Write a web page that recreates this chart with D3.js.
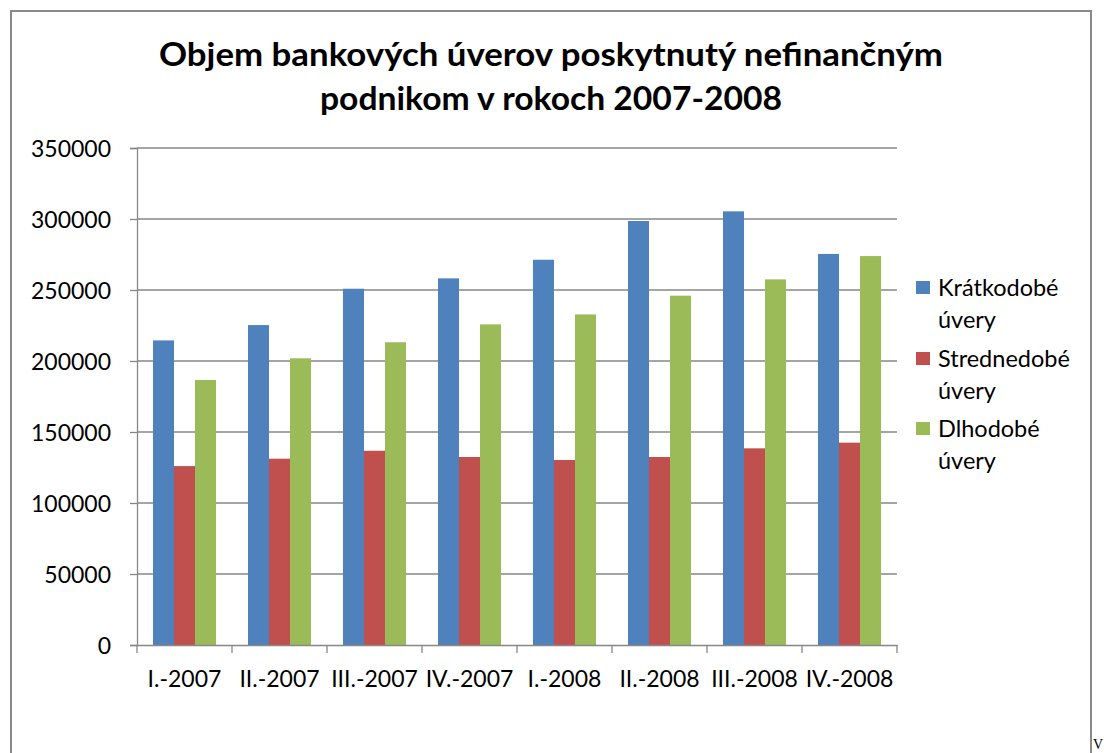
<!DOCTYPE html>
<html><head><meta charset="utf-8">
<script src="https://cdn.jsdelivr.net/npm/d3@7"></script>
<style>html,body{margin:0;padding:0;background:#fff;}svg{display:block;}</style>
</head><body>
<svg id="c" width="1104" height="753"></svg>
<script>
const categories = ["I.-2007","II.-2007","III.-2007","IV.-2007","I.-2008","II.-2008","III.-2008","IV.-2008"];
const seriesNames = ["Krátkodobé úvery","Strednedobé úvery","Dlhodobé úvery"];
const kratkodobe = [214500, 225300, 250900, 258200, 271300, 298600, 305400, 275400];
const strednedobe = [126000, 131200, 136800, 132400, 130300, 132400, 138500, 142500];
const dlhodobe = [186600, 201900, 213200, 225800, 232800, 246000, 257500, 273900];
const yTicks = [0, 50000, 100000, 150000, 200000, 250000, 300000, 350000];
const titleLines = ["Objem bankových úverov poskytnutý nefinančným", "podnikom v rokoch 2007-2008"];
const colors = ["#4F81BD", "#C0504D", "#9BBB59"];

const svg = d3.select("#c");
const font = "Lato, 'Open Sans', sans-serif";

// outer border
svg.append("rect").attr("x", 11).attr("y", 11).attr("width", 1080).attr("height", 760)
  .attr("fill", "none").attr("stroke", "#8a8a8a").attr("stroke-width", 2);

// title
svg.append("text").attr("x", 551).attr("y", 66).attr("text-anchor", "middle")
  .attr("font-family", font).attr("font-weight", "bold").attr("font-size", 33)
  .attr("textLength", 784).attr("lengthAdjust", "spacingAndGlyphs")
  .attr("fill", "#000").text(titleLines[0]);
svg.append("text").attr("x", 551).attr("y", 110).attr("text-anchor", "middle")
  .attr("font-family", font).attr("font-weight", "bold").attr("font-size", 33)
  .attr("textLength", 462).attr("lengthAdjust", "spacingAndGlyphs")
  .attr("fill", "#000").text(titleLines[1]);

const pLeft = 137, pRight = 897, pTop = 148, pBottom = 645;
const x = d3.scaleBand().domain(categories).range([pLeft, pRight]).paddingInner(0).paddingOuter(0);
const y = d3.scaleLinear().domain([0, 350000]).range([pBottom, pTop]);
const inner = d3.scaleBand().domain(d3.range(3)).range([0, x.bandwidth()]).paddingInner(0).paddingOuter(0.76);

// gridlines
svg.append("g").selectAll("line").data(yTicks.filter(d => d > 0)).join("line")
  .attr("x1", pLeft).attr("x2", pRight).attr("y1", d => y(d)).attr("y2", d => y(d))
  .attr("stroke", "#878787").attr("stroke-width", 1.3);

// bars
const data = [kratkodobe, strednedobe, dlhodobe];
data.forEach((vals, si) => {
  svg.append("g").selectAll("rect").data(vals).join("rect")
    .attr("x", (d, i) => x(categories[i]) + inner(si))
    .attr("width", inner.bandwidth())
    .attr("y", d => y(d))
    .attr("height", d => y(0) - y(d))
    .attr("fill", colors[si]);
});

// y axis
const yAxis = svg.append("g").attr("transform", `translate(${pLeft},0)`)
  .call(d3.axisLeft(y).tickValues(yTicks).tickSize(7).tickPadding(19).tickFormat(d3.format("d")));
yAxis.select(".domain").attr("stroke", "#878787").attr("stroke-width", 1.3);
yAxis.selectAll(".tick line").attr("stroke", "#878787").attr("stroke-width", 1.3);
yAxis.selectAll("text").attr("font-family", font).attr("font-size", 23).attr("fill", "#000").attr("dy", "0.36em");

// x axis
const xAxis = svg.append("g").attr("transform", `translate(0,${pBottom})`)
  .call(d3.axisBottom(x).tickSize(0).tickPadding(26));
xAxis.select(".domain").attr("stroke", "#878787").attr("stroke-width", 1.3);
xAxis.selectAll("text").attr("font-family", font).attr("font-size", 23).attr("fill", "#000").attr("dy", "0.71em");
// category boundary ticks
const boundaries = categories.map(c => x(c)).concat([pRight]);
svg.append("g").selectAll("line").data(boundaries).join("line")
  .attr("x1", d => d).attr("x2", d => d).attr("y1", pBottom).attr("y2", pBottom + 8)
  .attr("stroke", "#878787").attr("stroke-width", 1.3);

// legend
const legendY = [281, 352, 422];
seriesNames.forEach((name, i) => {
  const g = svg.append("g");
  g.append("rect").attr("x", 916).attr("y", legendY[i]).attr("width", 14).attr("height", 13).attr("fill", colors[i]);
  const parts = name.split(" ");
  g.append("text").attr("x", 938).attr("y", legendY[i] + 15).attr("font-family", font).attr("font-size", 23.5)
    .attr("fill", "#000").text(parts[0]);
  g.append("text").attr("x", 938).attr("y", legendY[i] + 47).attr("font-family", font).attr("font-size", 23.5)
    .attr("fill", "#000").text(parts[1]);
});

// stray page character at bottom right
svg.append("text").attr("x", 1093).attr("y", 749).attr("font-family", "'Liberation Serif', serif")
  .attr("font-size", 14).attr("fill", "#000").text("V");
</script>
</body></html>
